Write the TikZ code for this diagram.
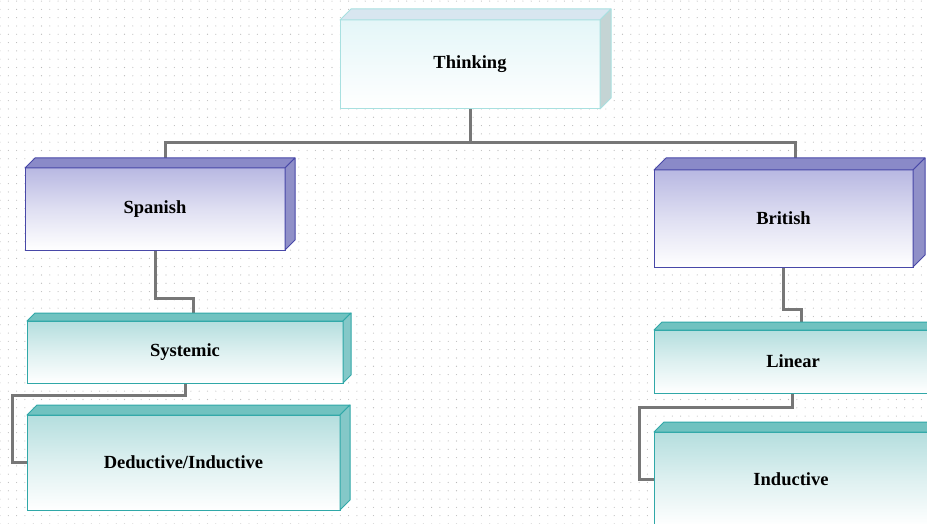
\documentclass[tikz,border=0pt]{standalone}
\usepackage{fontspec}
\setmainfont{Liberation Serif}
\usetikzlibrary{calc,patterns.meta,backgrounds}
\definecolor{thinkB}{HTML}{A8E0E0}
\definecolor{thinkF}{HTML}{E4F6F8}
\definecolor{thinkT}{HTML}{D8E6F0}
\definecolor{thinkS}{HTML}{C4D4D4}
\definecolor{blueB}{HTML}{4848A8}
\definecolor{blueF}{HTML}{B8B8E2}
\definecolor{blueT}{HTML}{8A8AC8}
\definecolor{blueS}{HTML}{9090C8}
\definecolor{tealB}{HTML}{30A8A8}
\definecolor{tealF}{HTML}{B4DEDE}
\definecolor{tealT}{HTML}{70C2C0}
\definecolor{tealS}{HTML}{84C8C8}
\definecolor{connG}{HTML}{777777}
\definecolor{dotG}{HTML}{B8B8B8}
\newcommand\cubefaces[5]{%
  \filldraw[draw=#3, fill=#4, line width=1pt, line join=round]
    (#1.north west) -- ++(#2,-#2) -- ($(#1.north east)+(#2,-#2)$) -- (#1.north east) -- cycle;
  \filldraw[draw=#3, fill=#5, line width=1pt, line join=round]
    (#1.north east) -- ++(#2,-#2) -- ($(#1.south east)+(#2,-#2)$) -- (#1.south east) -- cycle;
  \coordinate (#1-top) at ($(#1.north)+(#2,-#2)$);
}
\tikzset{
  cubebox/.style={draw, line width=1pt, inner sep=0pt, outer sep=0pt,
    font=\bfseries\fontsize{18.5}{20}\selectfont, text=black},
  thinkbox/.style={cubebox, draw=thinkB, top color=thinkF, bottom color=white},
  bluebox/.style={cubebox, draw=blueB, top color=blueF, bottom color=white, middle color=blueF!45},
  tealbox/.style={cubebox, draw=tealB, top color=tealF, bottom color=white, middle color=tealF!45},
  conn/.style={draw=connG, line width=3pt}
}
\begin{document}
\begin{tikzpicture}[x=1pt,y=-1pt]
\useasboundingbox (0,0) rectangle (927,524);
% boxes
\node[thinkbox, minimum width=260pt, minimum height=89pt] (think) at (470,64.5) {Thinking};
\cubefaces{think}{11}{thinkB}{thinkT}{thinkS}
\node[bluebox, minimum width=260pt, minimum height=82pt] (span) at (155,209) {Spanish};
\cubefaces{span}{10}{blueB}{blueT}{blueS}
\node[bluebox, minimum width=259pt, minimum height=97pt] (brit) at (783.5,218.5) {British};
\cubefaces{brit}{12}{blueB}{blueT}{blueS}
\node[tealbox, minimum width=316pt, minimum height=62pt] (sys) at (185,352) {Systemic};
\cubefaces{sys}{8}{tealB}{tealT}{tealS}
\node[tealbox, minimum width=313pt, minimum height=95pt] (ded) at (183.5,462.5) {Deductive/Inductive};
\cubefaces{ded}{10}{tealB}{tealT}{tealS}
\node[tealbox, minimum width=278pt, minimum height=63pt] (lin) at (793,361.5) {Linear};
\cubefaces{lin}{8}{tealB}{tealT}{tealS}
\node[tealbox, minimum width=274pt, minimum height=94pt] (ind) at (791,479) {Inductive};
\cubefaces{ind}{10}{tealB}{tealT}{tealS}
% background and connectors
\begin{scope}[on background layer]
  \fill[white] (0,0) rectangle (927,524);
  \fill[pattern={Dots[distance=8.3pt, radius=0.55pt]}, pattern color=dotG] (0,0) rectangle (927,524);
  \draw[conn] (think.south) -- ++(0,34) -| (span-top);
  \draw[conn] (think.south) -- ++(0,34) -| (brit-top);
  \draw[conn] (span.south) -- ++(0,48) -| (sys-top);
  \draw[conn] (brit.south) -- ++(0,42) -| (lin-top);
  \draw[conn] (sys.south) -- ++(0,12) -| ([xshift=-15pt]ded.west) -- (ded.west);
  \draw[conn] ([xshift=-1pt]lin.south) -- ++(0,14) -| ([xshift=-15pt]ind.west) -- (ind.west);
\end{scope}
\end{tikzpicture}
\end{document}
